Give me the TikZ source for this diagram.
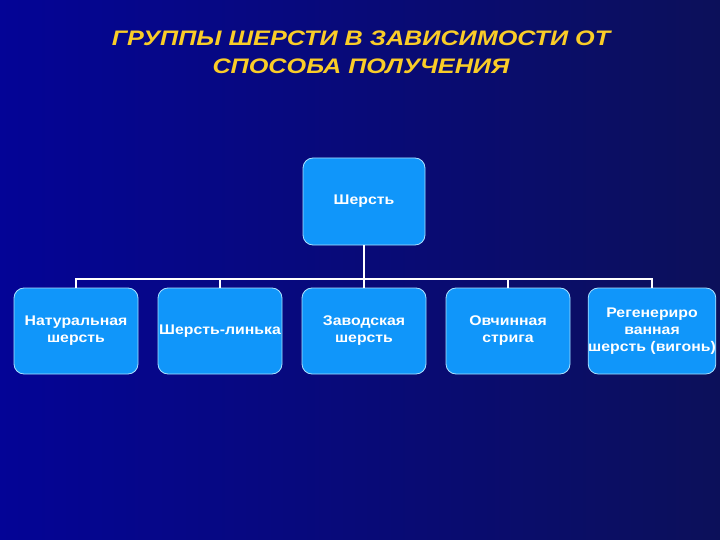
\documentclass[tikz,border=0pt]{standalone}
\usepackage{fontspec}
\setmainfont{Liberation Sans}
\newfontfamily\titlefont[FakeStretch=1.2]{Liberation Sans}
\newfontfamily\boxfont[FakeStretch=1.13]{Liberation Sans}
\usetikzlibrary{positioning,calc}
\definecolor{SlideNavy}{RGB}{4,4,150}
\definecolor{SlideDeep}{RGB}{12,16,90}
\definecolor{BoxBlue}{RGB}{16,150,250}
\definecolor{BoxRim}{RGB}{170,225,255}
\definecolor{TitleGold}{RGB}{250,205,40}
\tikzset{
  heading/.style={text=TitleGold,align=center,
    font=\titlefont\bfseries\itshape\fontsize{21}{28}\selectfont},
  woolbox/.style={draw=BoxRim,line width=0.8pt,fill=BoxBlue,rounded corners=10pt,
    minimum width=124pt,minimum height=86pt,inner sep=0pt,align=center,text=white,
    font=\boxfont\bfseries\fontsize{14}{17}\selectfont},
  link/.style={draw=white,line width=1.8pt},
}

\begin{document}
\begin{tikzpicture}[x=1pt,y=-1pt]
\useasboundingbox (0,0) rectangle (720,540);
\shade[left color=SlideNavy,right color=SlideDeep] (0,0) rectangle (720,540);
\node[heading] (title) at (361,52) {ГРУППЫ ШЕРСТИ В ЗАВИСИМОСТИ ОТ\\СПОСОБА ПОЛУЧЕНИЯ};
% top box and the bus line under it
\node[woolbox,minimum width=122pt,minimum height=87pt] (wool) at (364,201.5) {Шерсть};
\coordinate (bus) at (364,279);
\draw[link] (wool) -- (bus);
% groups
\node[woolbox] (natural) at (76,331) {Натуральная\\шерсть};
\node[woolbox] (shed) at (220,331) {Шерсть-линька};
\node[woolbox] (factory) at (364,331) {Заводская\\шерсть};
\node[woolbox] (sheepskin) at (508,331) {Овчинная\\стрига};
\node[woolbox] (regen) at (652,331) {Регенериро\\ванная\\шерсть (вигонь)};
\draw[link] (natural.north) |- (bus);
\draw[link] (shed.north) |- (bus);
\draw[link] (factory.north) -- (bus);
\draw[link] (sheepskin.north) |- (bus);
\draw[link] (regen.north) |- (bus);
\end{tikzpicture}
\end{document}
